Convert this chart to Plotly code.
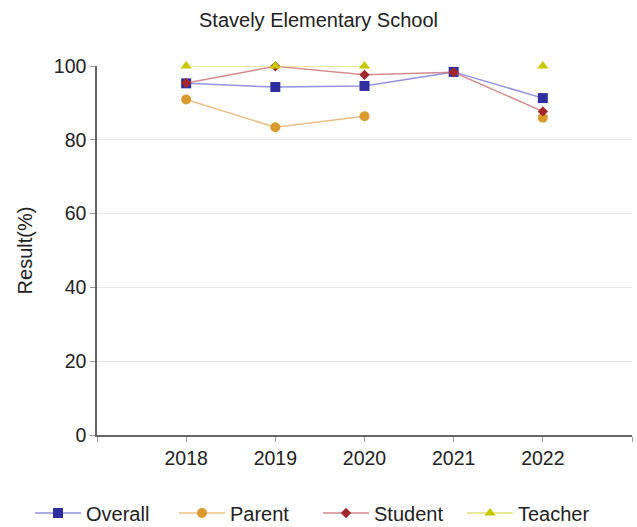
import plotly.graph_objects as go

years = [2018, 2019, 2020, 2021, 2022]
overall = [95.3, 94.3, 94.6, 98.4, 91.3]
parent = [90.9, 83.4, 86.4, None, 86.0]
student = [95.4, 99.9, 97.6, 98.3, 87.7]
teacher = [100, 100, 100, None, 100]

x_tickvals = [2017, 2018, 2019, 2020, 2021, 2022, 2023]
x_ticktext = ["", "2018", "2019", "2020", "2021", "2022", ""]
y_tickvals = [0, 20, 40, 60, 80, 100]

series = [
    ("Overall", overall, "#2e2e9e", "rgba(110,110,210,0.75)", "square", 10),
    ("Parent", parent, "#d99a2e", "rgba(230,180,110,0.85)", "circle", 10),
    ("Student", student, "#a3282e", "rgba(200,110,115,0.8)", "diamond", 8),
    ("Teacher", teacher, "#c8c800", "rgba(220,220,90,0.85)", "triangle-up", 10),
]

fig = go.Figure()
for name, vals, mc, lc, sym, sz in series:
    fig.add_trace(go.Scatter(
        x=years, y=vals, name=name, mode="lines+markers",
        line=dict(color=lc, width=1.5),
        marker=dict(color=mc, symbol=sym, size=sz),
        connectgaps=False, cliponaxis=False,
    ))

FONT = "Liberation Sans, Arial, sans-serif"
L, R, T, B = 97, 5, 66, 92
W, H = 637, 527
pw, ph = W - L - R, H - T - B
fig.update_layout(
    width=W, height=H,
    margin=dict(l=L, r=R, t=T, b=B, autoexpand=False),
    paper_bgcolor="white", plot_bgcolor="white",
    font=dict(family=FONT, size=19.5, color="#222"),
    title=dict(text="Stavely Elementary School", x=0.5, xanchor="center", xref="container",
               y=1 - 20 / H, yanchor="middle", yref="container",
               font=dict(size=20, color="#222")),
    showlegend=True,
    legend=dict(orientation="h", xref="paper", x=(30 - L) / pw, xanchor="left",
                yref="paper", y=-(513 - (H - B)) / ph, yanchor="middle",
                font=dict(size=20, color="#222"),
                itemwidth=46, entrywidth=83, entrywidthmode="pixels"),
)
fig.update_xaxes(
    range=[2017, 2023], tickvals=x_tickvals, ticktext=x_ticktext,
    showgrid=False, showline=True, linecolor="#666", linewidth=1.5,
    ticks="outside", ticklen=5, tickcolor="#999", tickfont=dict(size=19.5, color="#222"),
    zeroline=False,
)
fig.update_yaxes(
    range=[0, 100], tickvals=y_tickvals,
    showgrid=True, gridcolor="#e6e6e6", gridwidth=1,
    showline=True, linecolor="#666", linewidth=1.5,
    ticks="outside", ticklen=5, tickcolor="#999", tickfont=dict(size=19.5, color="#222"),
    title=dict(text="Result(%)", font=dict(size=20, color="#222"), standoff=16),
    zeroline=False,
)

fig.write_html("out.html")
